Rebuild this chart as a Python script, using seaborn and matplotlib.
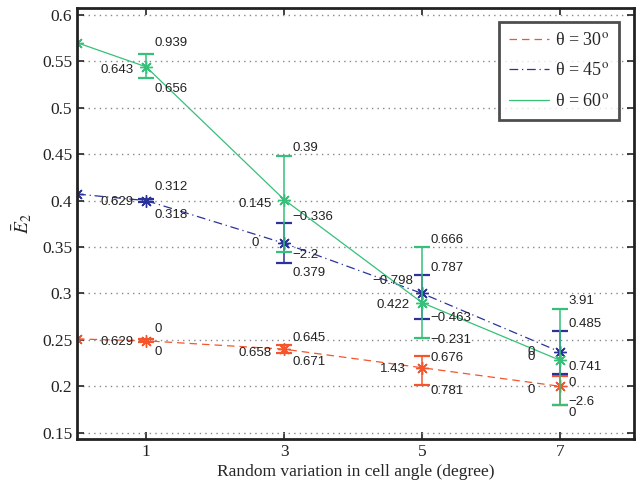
import numpy as np
import matplotlib
matplotlib.use('Agg')
import matplotlib.pyplot as plt
from matplotlib.lines import Line2D
import seaborn as sns

# data
angle_var = [0, 1, 3, 5, 7]

e2_30 = [0.251, 0.249, 0.240, 0.220, 0.200]
hi_30 = [np.nan, 0.2505, 0.244, 0.233, 0.2115]
lo_30 = [np.nan, 0.2475, 0.236, 0.201, 0.180]

e2_45 = [0.407, 0.400, 0.354, 0.300, 0.237]
hi_45 = [np.nan, 0.402, 0.376, 0.320, 0.260]
lo_45 = [np.nan, 0.398, 0.333, 0.273, 0.213]

e2_60 = [0.570, 0.544, 0.401, 0.290, 0.228]
hi_60 = [np.nan, 0.558, 0.448, 0.350, 0.283]
lo_60 = [np.nan, 0.532, 0.345, 0.252, 0.180]

# the little numbers written around each error bar
up_30 = ['', '0', '0.645', '0.676', '0']
dn_30 = ['', '0', '0.671', '0.781', '0']
lf_30 = ['', '0.629', '0.658', '1.43', '0']

up_45 = ['', '0.312', '−0.336', '0.787', '0.485']
dn_45 = ['', '0.318', '0.379', '−0.463', '0.741']
lf_45 = ['', '0.629', '0', '−0.798', '0']

up_60 = ['', '0.939', '0.39', '0.666', '3.91']
dn_60 = ['', '0.656', '−2.2', '−0.231', '−2.6']
lf_60 = ['', '0.643', '0.145', '0.422', '0']

# vertical nudges of those numbers (pixels, + is down)
up_dy_30 = [0, -10, -7, 2, 7]
dn_dy_30 = [0, 10, 9, 6, 8]
lf_dy_30 = [0, 1, 4, 1, 4]
up_dy_45 = [0, -12, -6, -7, -7]
dn_dy_45 = [0, 13, 10, -1, -7]
lf_dy_45 = [0, 1, 0, -12, 0]
up_dy_60 = [0, -11, -8, -7, -8]
dn_dy_60 = [0, 11, 3, 2, -3]
lf_dy_60 = [0, 3, 4, 2, -3]

legend_labels = ['θ = 30$^{\\rm o}$', 'θ = 45$^{\\rm o}$', 'θ = 60$^{\\rm o}$']
yticks = [0.15, 0.2, 0.25, 0.3, 0.35, 0.4, 0.45, 0.5, 0.55, 0.6]
ytick_labels = ['0.15', '0.2', '0.25', '0.3', '0.35', '0.4', '0.45', '0.5', '0.55', '0.6']
xticks = [1, 3, 5, 7]

sns.set_style('ticks')
plt.rcParams['font.family'] = ['Liberation Serif', 'DejaVu Serif']
plt.rcParams['mathtext.fontset'] = 'stix'

fig = plt.figure(figsize=(6.43, 4.87), dpi=100)
ax = fig.add_axes([0.120, 0.099, 0.866, 0.885])

PX = 0.72  # points per pixel at 100 dpi
series = [
    (e2_30, hi_30, lo_30, up_30, dn_30, lf_30, up_dy_30, dn_dy_30, lf_dy_30, '#F4552C', (0, (6, 4))),
    (e2_45, hi_45, lo_45, up_45, dn_45, lf_45, up_dy_45, dn_dy_45, lf_dy_45, '#2B3399', (0, (7, 3, 1, 3))),
    (e2_60, hi_60, lo_60, up_60, dn_60, lf_60, up_dy_60, dn_dy_60, lf_dy_60, '#36C07A', '-'),
]

txt_kw = dict(textcoords='offset points', va='center', fontsize=9.5,
              family='Liberation Sans', color='#222222')

handles = []
for vals, hi, lo, up, dn, lf, up_dy, dn_dy, lf_dy, col, ls in series:
    sns.lineplot(x=angle_var, y=vals, ax=ax, color=col, linestyle=ls, linewidth=0.9,
                 marker=(8, 2, 0), markersize=9, markeredgewidth=1,
                 markeredgecolor=col, legend=False)
    vals_a = np.array(vals)
    hi_a = np.array(hi)
    lo_a = np.array(lo)
    m = ~np.isnan(hi_a)
    x_a = np.array(angle_var)[m]
    ax.errorbar(x_a, vals_a[m], yerr=[vals_a[m] - lo_a[m], hi_a[m] - vals_a[m]],
                fmt='none', ecolor=col, elinewidth=1.1, capsize=6, capthick=1.6)
    for i, x in enumerate(angle_var):
        if not m[i]:
            continue
        ax.annotate(up[i], (x, hi[i]), xytext=(8 * PX, -up_dy[i] * PX), ha='left', **txt_kw)
        ax.annotate(dn[i], (x, lo[i]), xytext=(8 * PX, -dn_dy[i] * PX), ha='left', **txt_kw)
        ax.annotate(lf[i], (x, vals[i]), xytext=(-29 * PX, -lf_dy[i] * PX), ha='center', **txt_kw)
    handles.append(Line2D([], [], color=col, linestyle=ls, linewidth=0.9))

ax.set_xlim(0, 8.07)
ax.set_ylim(0.1435, 0.6076)
ax.set_xticks(xticks)
ax.set_xticklabels([str(t) for t in xticks])
ax.set_yticks(yticks)
ax.set_yticklabels(ytick_labels)
ax.tick_params(direction='in', length=5, width=1.2, top=True, right=True,
               labelsize=12.5, colors='#222222')
ax.yaxis.grid(True, linestyle=(0, (1, 3)), color='#888888', linewidth=1)
ax.xaxis.grid(False)
for sp in ax.spines.values():
    sp.set_linewidth(2)
    sp.set_color('#222222')

ax.set_xlabel('Random variation in cell angle (degree)', fontsize=12.5, labelpad=3)
ax.set_ylabel(r'$\bar{E}_2$', fontsize=14, labelpad=6)

leg = ax.legend(handles, legend_labels, loc='upper right',
                bbox_to_anchor=(619 / 643, 1 - 22 / 487), bbox_transform=fig.transFigure,
                borderaxespad=0, fancybox=False, frameon=True, edgecolor='#222222',
                fontsize=13, handlelength=2.2, handletextpad=0.35, labelspacing=0.75,
                borderpad=0.55)
leg.get_frame().set_linewidth(2)

fig.savefig('out.png', dpi=100)
